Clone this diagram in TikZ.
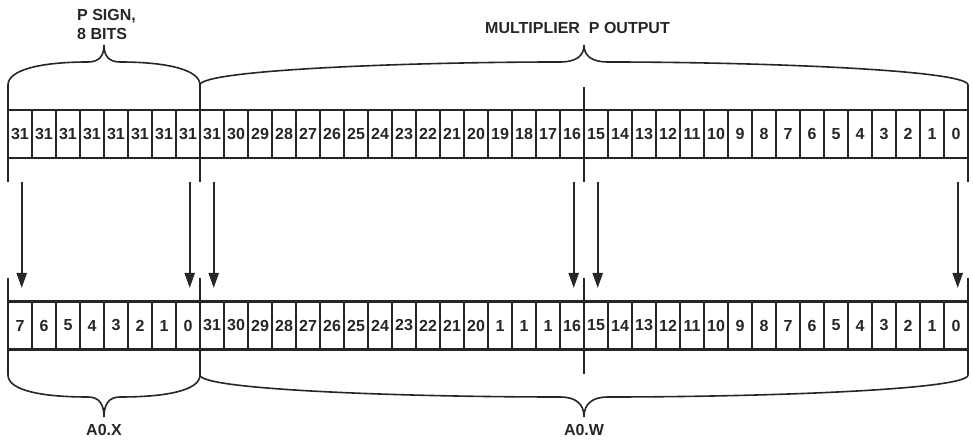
\documentclass[tikz,border=0pt]{standalone}
\usepackage{fontspec}
\setmainfont{Liberation Sans}
\usetikzlibrary{arrows.meta,calc}
\definecolor{ink}{HTML}{262626}
\begin{document}
\begin{tikzpicture}[x=1pt,y=-1pt,
  every node/.style={font=\bfseries\fontsize{16}{19.5}\selectfont, text=ink},
  cell/.style={draw=ink, line width=2.4pt, minimum width=24pt, minimum height=48pt, inner sep=0pt, outer sep=0pt},
  sepline/.style={draw=ink, line width=2pt},
  brace/.style={draw=ink, line width=1.6pt},
  arr/.style={draw=ink, line width=2.2pt, -{Triangle[length=15pt,width=10pt]}},
  lbl/.style={inner sep=0pt}]
\useasboundingbox (0,0) rectangle (973,443);

% top register (multiplier P output, with sign extension)
\foreach \t [count=\i from 0] in {31,31,31,31,31,31,31,31,31,30,29,28,27,26,25,24,23,22,21,20,19,18,17,16,15,14,13,12,11,10,9,8,7,6,5,4,3,2,1,0}
  \node[cell] (t\i) at (20+24*\i,134) {\t};
% bottom register (A0.X, A0.W)
\foreach \t [count=\i from 0] in {7,6,5,4,3,2,1,0,31,30,29,28,27,26,25,24,23,22,21,20,1,1,1,16,15,14,13,12,11,10,9,8,7,6,5,4,3,2,1,0}
  \node[cell] (b\i) at (20+24*\i,325.5) {\t};

% separator lines
\foreach \x in {8,200,968} {
  \draw[sepline] (\x,85) -- (\x,182);
  \draw[sepline] (\x,278) -- (\x,375);
}
\draw[sepline] (584,87) -- (584,182);
\draw[sepline] (584,278) -- (584,374);

% top braces
\draw[brace] (8,85) .. controls (8,70) and (40,62) .. (88,62)
  .. controls (99,62) and (104,56) .. (104,45)
  .. controls (104,56) and (109,62) .. (120,62)
  .. controls (168,62) and (200,70) .. (200,85);
\draw[brace] (200,85) .. controls (200,70) and (408,62) .. (560,62)
  .. controls (576,62) and (584,56) .. (584,45)
  .. controls (584,56) and (592,62) .. (608,62)
  .. controls (760,62) and (968,70) .. (968,85);

% bottom braces
\draw[brace] (8,375) .. controls (8,390) and (40,397) .. (88,397)
  .. controls (99,397) and (104,404) .. (104,417)
  .. controls (104,404) and (109,397) .. (120,397)
  .. controls (168,397) and (200,390) .. (200,375);
\draw[brace] (200,375) .. controls (200,390) and (408,397) .. (560,397)
  .. controls (576,397) and (584,404) .. (584,417)
  .. controls (584,404) and (592,397) .. (608,397)
  .. controls (760,397) and (968,390) .. (968,375);

% arrows
\foreach \i in {0,7,8,23,24,39} {
  \coordinate (s\i) at ($(t\i.south)+(1.7,24.5)$);
  \coordinate (e\i) at ($(b\i.north)+(1.7,-13.5)$);
  \draw[arr] (s\i) -- (e\i);
}

% labels
\node[lbl, align=left, anchor=west] (psign) at (77,24.5) {P SIGN,\\8 BITS};
\node[lbl, anchor=west] (mult) at (485,28) {MULTIPLIER\ \ P OUTPUT};
\node[lbl] (ax) at (104,430) {A0.X};
\node[lbl] (aw) at (584,430) {A0.W};
\end{tikzpicture}
\end{document}
